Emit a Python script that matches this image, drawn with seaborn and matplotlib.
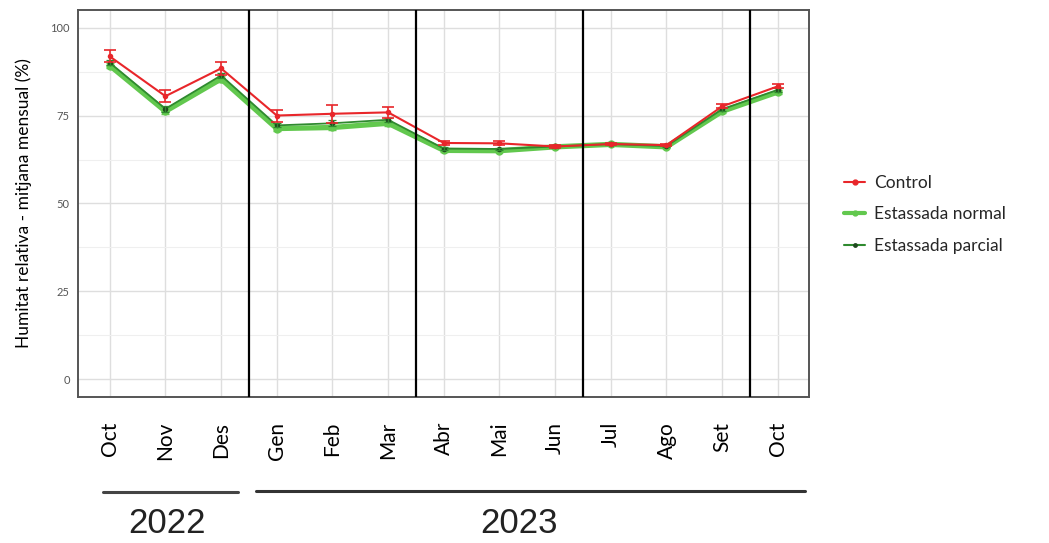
import matplotlib
matplotlib.use("Agg")
import matplotlib.pyplot as plt
from matplotlib.transforms import blended_transform_factory
from matplotlib.ticker import MultipleLocator
from matplotlib.lines import Line2D
import seaborn as sns
import pandas as pd
import numpy as np

# Monthly mean relative humidity per treatment
months = ["Oct", "Nov", "Des", "Gen", "Feb", "Mar", "Abr", "Mai", "Jun", "Jul", "Ago", "Set", "Oct"]
control = [91.8, 80.5, 88.4, 75.0, 75.5, 75.9, 67.2, 67.1, 66.2, 66.9, 66.6, 77.6, 83.3]
control_se = [1.7, 1.7, 1.9, 1.7, 2.5, 1.6, 0.7, 0.6, 0.3, 0.3, 0.3, 0.6, 0.6]
normal = [89.2, 76.2, 85.4, 71.3, 71.6, 72.8, 65.1, 65.0, 66.1, 66.8, 66.1, 76.2, 81.7]
normal_se = [0.8, 0.7, 0.8, 0.7, 0.8, 0.7, 0.5, 0.5, 0.3, 0.3, 0.3, 0.5, 0.5]
parcial = [90.0, 76.9, 86.4, 72.2, 72.8, 73.8, 65.6, 65.5, 66.2, 66.9, 66.3, 76.8, 82.3]
parcial_se = [0.7, 0.8, 0.7, 0.6, 0.8, 0.6, 0.4, 0.4, 0.3, 0.3, 0.3, 0.5, 0.5]
season_breaks = [2.5, 5.5, 8.5, 11.5]
years = ["2022", "2023"]

x = np.arange(len(months))
df = pd.DataFrame({"x": np.tile(x, 3),
                   "hr": control + normal + parcial,
                   "serie": ["Control"] * 13 + ["Estassada normal"] * 13 + ["Estassada parcial"] * 13})

sns.set_theme(style="whitegrid")
plt.rcParams["font.family"] = ["Lato", "DejaVu Sans"]

fig = plt.figure(figsize=(10.49, 5.43), dpi=100)
ax = fig.add_axes([0.0744, 0.2689, 0.6968, 0.7127])
ax.set_facecolor("white")

red = "#e8262a"
light_green = "#62c84e"
dark_green = "#2f8a2f"
dark_point = "#1f4a1f"

# series drawn bottom to top
sns.lineplot(data=df[df.serie == "Estassada normal"], x="x", y="hr", ax=ax,
             color=light_green, lw=3.8, marker="o", markersize=6,
             markeredgewidth=0, zorder=3, legend=False)
ax.errorbar(x, normal, yerr=normal_se, fmt="none", ecolor=light_green,
            elinewidth=1.2, capsize=3, zorder=3)
sns.lineplot(data=df[df.serie == "Estassada parcial"], x="x", y="hr", ax=ax,
             color=dark_green, lw=1.3, marker="o", markersize=4,
             markerfacecolor=dark_point, markeredgewidth=0, zorder=4, legend=False)
ax.errorbar(x, parcial, yerr=parcial_se, fmt="none", ecolor=dark_green,
            elinewidth=0.9, capsize=3, capthick=0.9, zorder=4)
sns.lineplot(data=df[df.serie == "Control"], x="x", y="hr", ax=ax,
             color=red, lw=1.5, marker="o", markersize=4,
             markeredgewidth=0, zorder=5, legend=False)
ax.errorbar(x, control, yerr=control_se, fmt="none", ecolor=red,
            elinewidth=1.2, capsize=4, capthick=1.2, zorder=5)

for b in season_breaks:
    ax.axvline(b, color="black", lw=1.6, zorder=6)

ax.set_xlim(-0.57, 12.56)
ax.set_ylim(-5, 105)
ax.set_xticks(x)
ax.set_xticklabels(months, rotation=90, fontsize=15, color="black", va="top")
ax.yaxis.set_major_locator(MultipleLocator(25))
ax.yaxis.set_minor_locator(MultipleLocator(12.5))
ax.tick_params(axis="y", labelsize=8, labelcolor="#555555", length=4, width=1,
               color="#555555", pad=2)
ax.tick_params(axis="x", length=4, width=1, color="#555555", pad=14)
ax.tick_params(axis="y", which="minor", length=0)
ax.grid(which="major", color="#dedede", lw=1.0)
ax.grid(which="minor", axis="y", color="#efefef", lw=0.8)
ax.set_xlabel("")
ax.set_ylabel("Humitat relativa - mitjana mensual (%)", fontsize=12.5, color="black", labelpad=13)
for s in ax.spines.values():
    s.set_color("#555555")
    s.set_linewidth(1.4)

handles = [
    Line2D([], [], color=red, lw=1.5, marker="o", markersize=3.5),
    Line2D([], [], color=light_green, lw=3, marker="o", markersize=3.5),
    Line2D([], [], color=dark_green, lw=1.5, marker="o", markersize=3.5, markerfacecolor=dark_point,
           markeredgewidth=0),
]
fig.legend(handles, ["Control", "Estassada normal", "Estassada parcial"],
           loc="center left", bbox_to_anchor=(0.790, 0.605), frameon=False,
           fontsize=12.5, handlelength=1.2, handletextpad=0.5, labelspacing=0.9)

# year brackets under the month labels
tr = blended_transform_factory(ax.transData, fig.transFigure)
ax.plot([-0.13, 2.3], [0.094, 0.094], transform=tr, color="#444444", lw=2.2, clip_on=False)
ax.plot([2.62, 12.48], [0.095, 0.095], transform=tr, color="#333333", lw=2.2, clip_on=False)
ax.text(1.02, 0.035, years[0], transform=tr, ha="center", va="center",
        fontsize=25, color="#222222", family=["Liberation Sans", "DejaVu Sans"])
ax.text(7.35, 0.035, years[1], transform=tr, ha="center", va="center",
        fontsize=25, color="#222222", family=["Liberation Sans", "DejaVu Sans"])

fig.savefig("out.png", dpi=100, facecolor="white")
